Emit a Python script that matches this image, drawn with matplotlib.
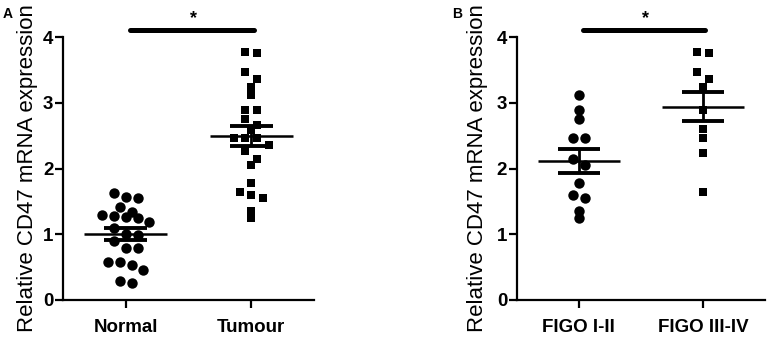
import numpy as np
import matplotlib
matplotlib.use('Agg')
import matplotlib.pyplot as plt

plt.rcParams['font.family'] = ['Liberation Sans', 'DejaVu Sans']

# values
groups_a = ['Normal', 'Tumour']
normal = [1.62, 1.55, 1.56, 1.42, 1.34, 1.28, 1.24, 1.26, 1.29, 1.18, 1.09,
          1.01, 0.99, 0.90, 0.79, 0.79, 0.57, 0.53, 0.57, 0.45, 0.26, 0.29]
tumour = [3.78, 3.75, 3.47, 3.36, 3.24, 3.12, 2.89, 2.89, 2.76, 2.66, 2.59,
          2.46, 2.46, 2.46, 2.36, 2.26, 2.15, 2.05, 1.78, 1.60, 1.65, 1.55,
          1.36, 1.24]

groups_b = ['FIGO I-II', 'FIGO III-IV']
figo_early = [3.12, 2.89, 2.76, 2.46, 2.46, 2.15, 2.05, 1.78, 1.60, 1.55,
              1.36, 1.24]
figo_late = [3.78, 3.75, 3.47, 3.36, 3.24, 2.89, 2.60, 2.46, 2.23, 1.65]

y_ticks = [0, 1, 2, 3, 4]
y_label = 'Relative CD47 mRNA expression'


def swarm_offsets(values, row_h=0.12, step=0.094):
    """Prism-like column scatter: group close values into rows and spread them."""
    vals = np.asarray(values)
    order = np.argsort(-vals)
    offs = np.zeros(len(vals))
    rows, row = [], [order[0]]
    for i in order[1:]:
        if vals[row[0]] - vals[i] < row_h:
            row.append(i)
        else:
            rows.append(row)
            row = [i]
    rows.append(row)
    for r in rows:
        pos = (np.arange(len(r)) - (len(r) - 1) / 2) * step
        for k, i in enumerate(r):
            offs[i] = pos[k]
    return offs


def draw_panel(ax, labels, data, label_x):
    markers = [('o', 7.5), ('s', 6.3)]
    for i, vals in enumerate(data):
        vals = np.asarray(vals)
        m, ms = markers[i]
        ax.plot(i + swarm_offsets(vals), vals, m, color='black', ms=ms,
                ls='none', mew=0, zorder=2)
        mean = vals.mean()
        sem = vals.std(ddof=1) / np.sqrt(len(vals))
        ax.hlines(mean, i - 0.33, i + 0.33, color='black', lw=1.8, zorder=3)
        ax.hlines([mean - sem, mean + sem], i - 0.17, i + 0.17, color='black',
                  lw=2.8, zorder=3)
        ax.vlines(i, mean - sem, mean + sem, color='black', lw=2, zorder=3)

    # significance bar
    ax.plot([0.03, 1.02], [4.11, 4.11], color='black', lw=3.6,
            solid_capstyle='round', clip_on=False)
    ax.text(0.54, 4.28, '*', ha='center', va='center', fontsize=13,
            fontweight='bold', clip_on=False)

    ax.set_xlim(-0.5, 1.5)
    ax.set_ylim(0, 4)
    ax.set_xticks([0, 1])
    ax.set_xticklabels(labels)
    ax.set_yticks(y_ticks)
    for side in ['top', 'right']:
        ax.spines[side].set_visible(False)
    for side in ['left', 'bottom']:
        ax.spines[side].set_linewidth(1.6)
    ax.tick_params(direction='out', length=5.5, width=1.6, labelsize=13.5)
    ax.tick_params(axis='x', pad=8)
    ax.tick_params(axis='y', pad=1.5)
    for lab in ax.get_xticklabels() + ax.get_yticklabels():
        lab.set_fontweight('bold')
    ax.set_ylabel(y_label, fontsize=16)
    ax.yaxis.set_label_coords(label_x, 0.5)


fig = plt.figure(figsize=(7.68, 3.37), dpi=100)
ax_a = fig.add_axes([0.082, 0.11, 0.327, 0.78])
ax_b = fig.add_axes([0.673, 0.11, 0.323, 0.78])

draw_panel(ax_a, groups_a, [normal, tumour], -0.10)
draw_panel(ax_b, groups_b, [figo_early, figo_late], -0.117)

fig.text(0.004, 0.98, 'A', fontsize=10, fontweight='bold', va='top')
fig.text(0.589, 0.98, 'B', fontsize=10, fontweight='bold', va='top')

fig.savefig('out.png', dpi=100)
